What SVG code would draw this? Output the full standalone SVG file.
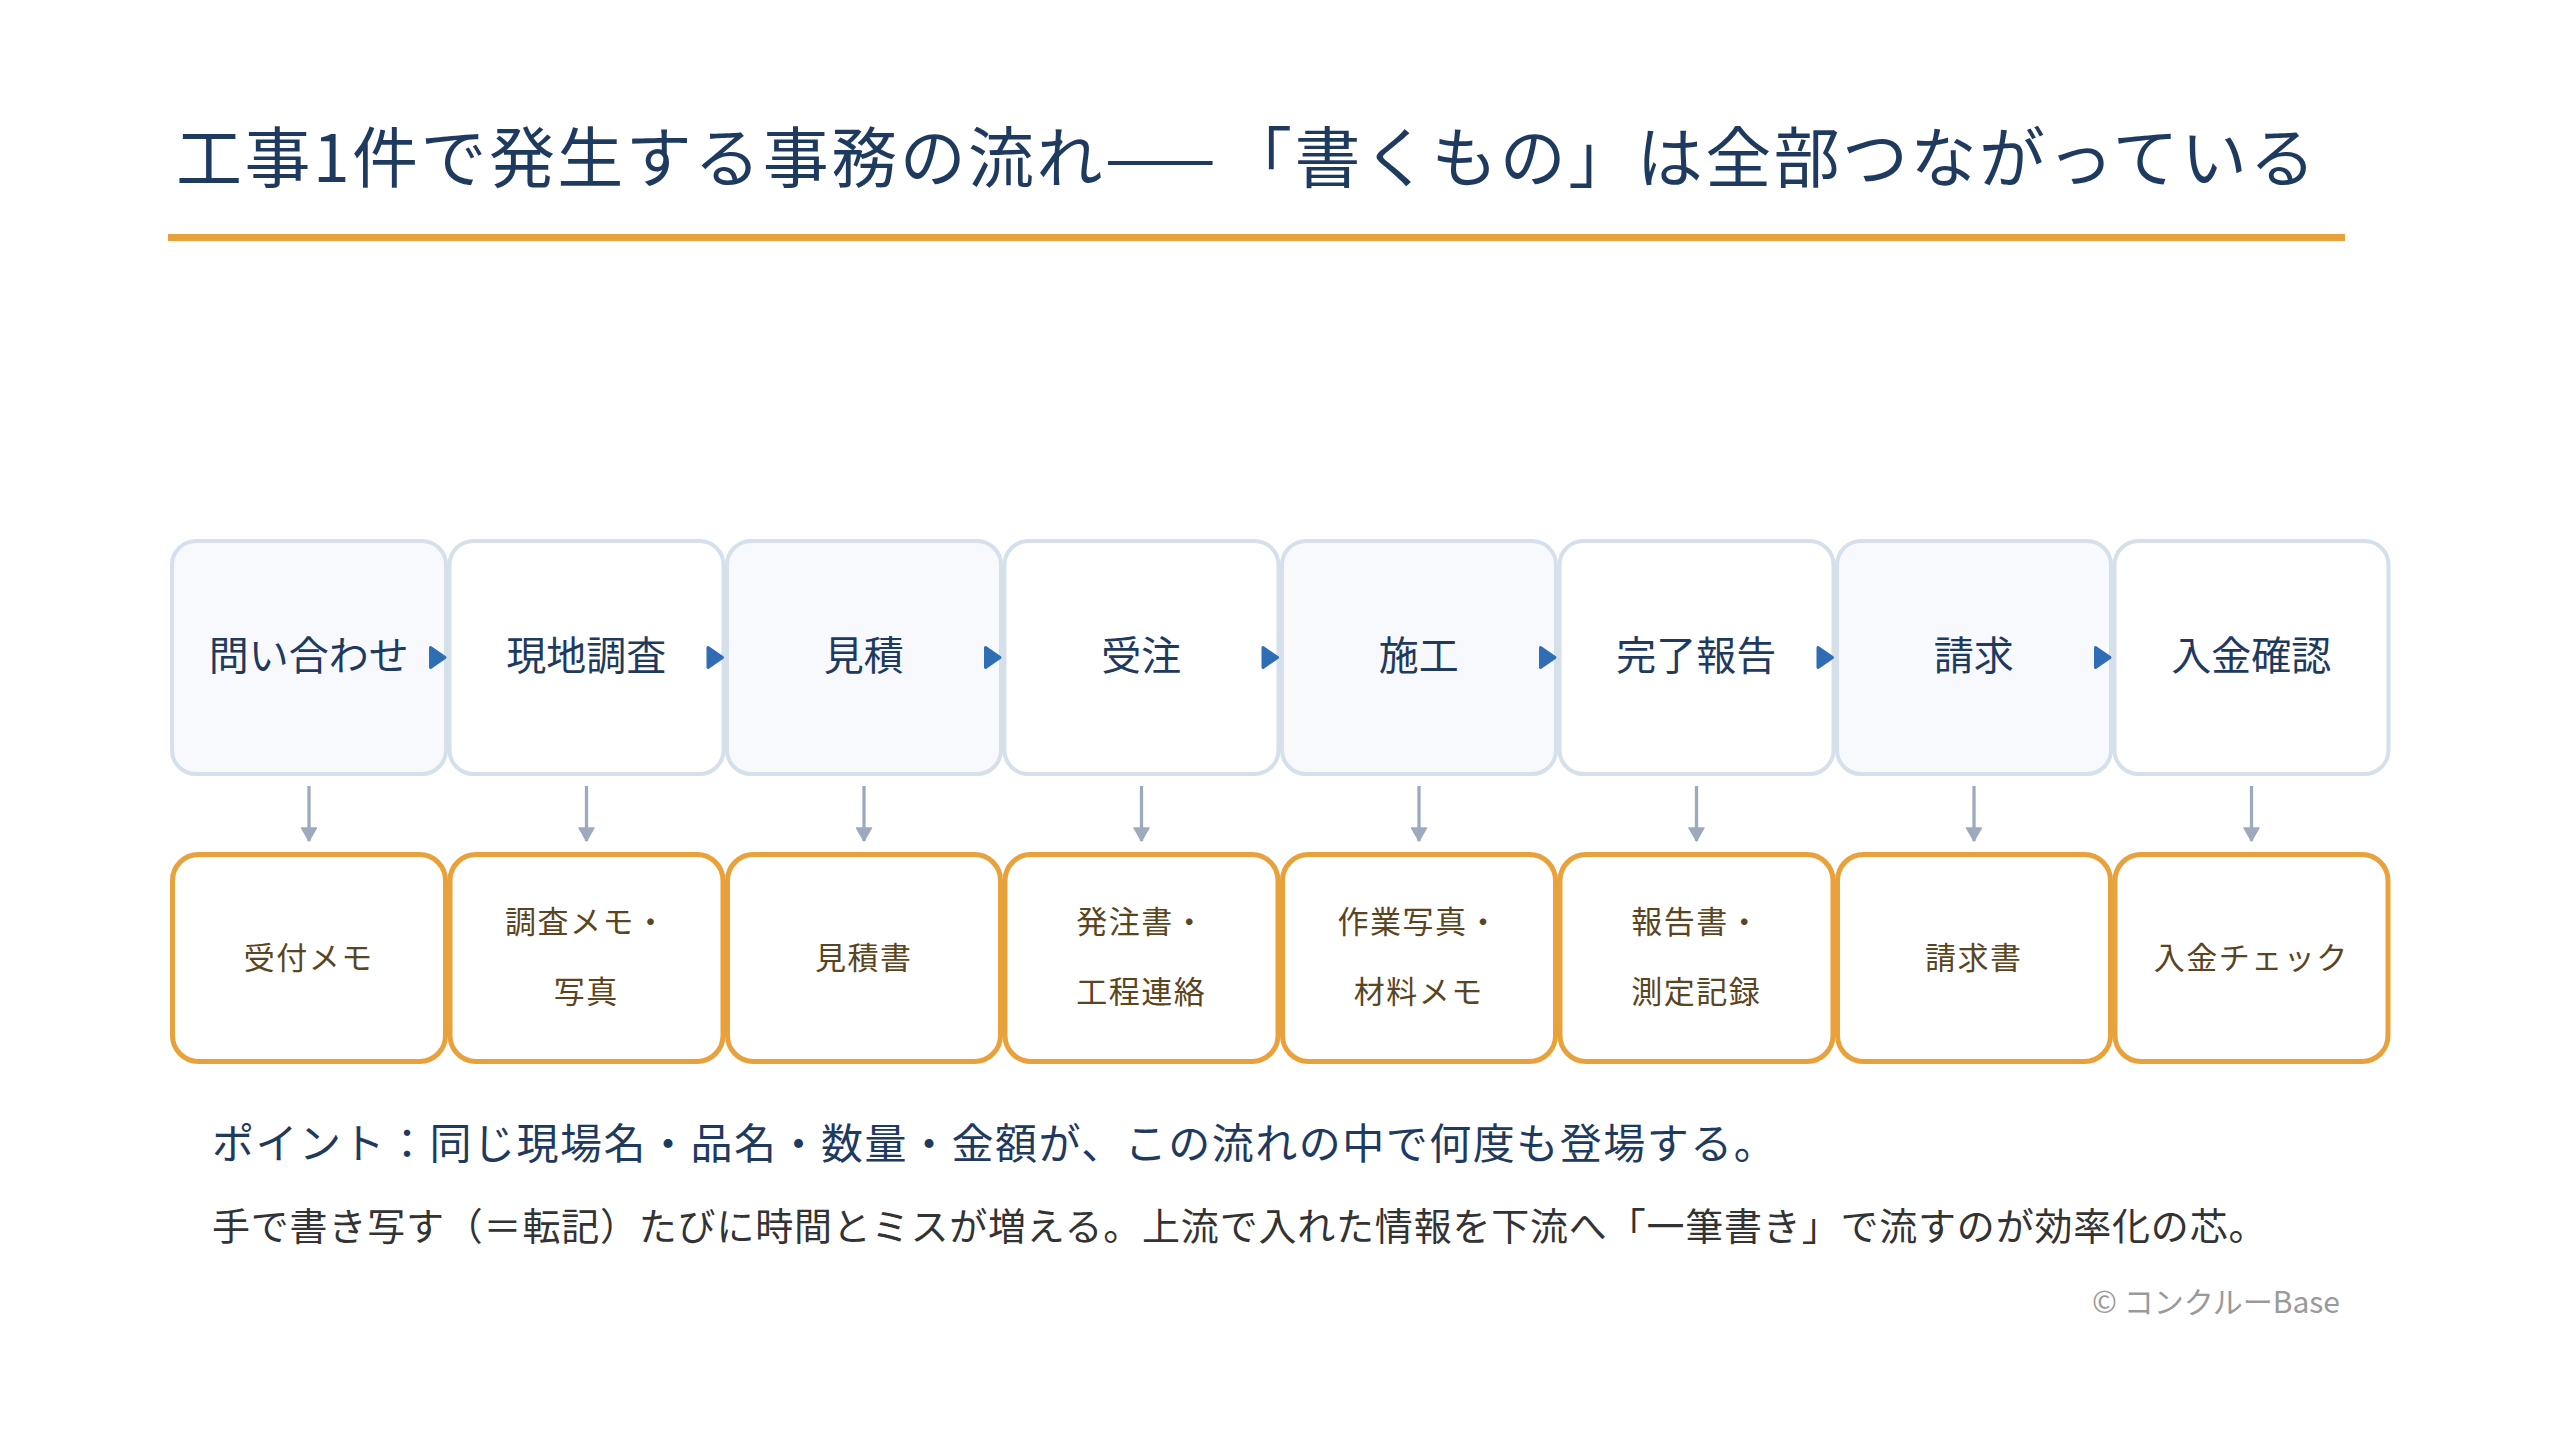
<svg xmlns="http://www.w3.org/2000/svg" width="2560" height="1440" viewBox="0 0 2560 1440">
<style>
text{font-family:"Noto Sans CJK JP","Noto Sans",sans-serif}
.title{font-size:66px;fill:#1F3A5F;letter-spacing:2.45px}
.step rect{fill:#FFFFFF;stroke:#D6E0EB;stroke-width:4}
.step.alt rect{fill:#F7F9FC}
.step text{font-size:40px;fill:#1F3A5F;text-anchor:middle}
.doc rect{fill:#FFFFFF;stroke:#E9A13B;stroke-width:5}
.doc text{font-size:31px;fill:#5A4520;text-anchor:middle;letter-spacing:1.5px}
.tri{fill:#2F6DB5;stroke:#2F6DB5;stroke-width:3;stroke-linejoin:round}
.down{stroke:#9DAABD;stroke-width:3.3;fill:none}
.point{font-size:42px;fill:#1F3A5F;letter-spacing:1.5px}
.note{font-size:38px;fill:#333333;letter-spacing:0.8px}
.copy{font-size:30px;fill:#9A9A9A;text-anchor:end}
</style>
<defs>
<marker id="ah" viewBox="-1 -1 16 18" refX="13" refY="8" markerWidth="16" markerHeight="18" markerUnits="userSpaceOnUse" orient="auto">
<path d="M0,0.5 L13,8 L0,15.5 Z" fill="#9DAABD" stroke="#9DAABD" stroke-width="1.5" stroke-linejoin="round"/>
</marker>
</defs>
<rect width="2560" height="1440" fill="#FFFFFF"/>
<g id="header">
<text class="title" x="176" y="182" dx="0 0 0 0 0 0 0 0 0 0 0 0 0 0 0 8">工事1件で発生する事務の流れ——「書くもの」は全部つながっている</text>
<rect x="168" y="234" width="2177" height="7" fill="#E9A13B"/>
</g>
<g id="step1" class="step alt"><rect x="172" y="541" width="274" height="233" rx="24"/><text x="308.75" y="670">問い合わせ</text></g>
<g id="step2" class="step"><rect x="449.5" y="541" width="274" height="233" rx="24"/><text x="586.25" y="670">現地調査</text></g>
<g id="step3" class="step alt"><rect x="727" y="541" width="274" height="233" rx="24"/><text x="863.75" y="670">見積</text></g>
<g id="step4" class="step"><rect x="1004.5" y="541" width="274" height="233" rx="24"/><text x="1141.25" y="670">受注</text></g>
<g id="step5" class="step alt"><rect x="1282" y="541" width="274" height="233" rx="24"/><text x="1418.75" y="670">施工</text></g>
<g id="step6" class="step"><rect x="1559.5" y="541" width="274" height="233" rx="24"/><text x="1696.25" y="670">完了報告</text></g>
<g id="step7" class="step alt"><rect x="1837" y="541" width="274" height="233" rx="24"/><text x="1973.75" y="670">請求</text></g>
<g id="step8" class="step"><rect x="2114.5" y="541" width="274" height="233" rx="24"/><text x="2251.25" y="670">入金確認</text></g>
<g id="doc1" class="doc"><rect x="172.5" y="854.5" width="273" height="207" rx="26"/><text x="308.75" y="969">受付メモ</text></g>
<g id="doc2" class="doc"><rect x="450" y="854.5" width="273" height="207" rx="26"/><text x="586.25" y="933">調査メモ・</text><text x="586.25" y="1003">写真</text></g>
<g id="doc3" class="doc"><rect x="727.5" y="854.5" width="273" height="207" rx="26"/><text x="863.75" y="969">見積書</text></g>
<g id="doc4" class="doc"><rect x="1005" y="854.5" width="273" height="207" rx="26"/><text x="1141.25" y="933">発注書・</text><text x="1141.25" y="1003">工程連絡</text></g>
<g id="doc5" class="doc"><rect x="1282.5" y="854.5" width="273" height="207" rx="26"/><text x="1418.75" y="933">作業写真・</text><text x="1418.75" y="1003">材料メモ</text></g>
<g id="doc6" class="doc"><rect x="1560" y="854.5" width="273" height="207" rx="26"/><text x="1696.25" y="933">報告書・</text><text x="1696.25" y="1003">測定記録</text></g>
<g id="doc7" class="doc"><rect x="1837.5" y="854.5" width="273" height="207" rx="26"/><text x="1973.75" y="969">請求書</text></g>
<g id="doc8" class="doc"><rect x="2115" y="854.5" width="273" height="207" rx="26"/><text x="2251.25" y="969">入金チェック</text></g>
<g id="connectors">
<path class="tri" d="M430.5,647.5 L445,657.5 L430.5,667.5 Z"/>
<path class="tri" d="M708,647.5 L722.5,657.5 L708,667.5 Z"/>
<path class="tri" d="M985.5,647.5 L1000,657.5 L985.5,667.5 Z"/>
<path class="tri" d="M1263,647.5 L1277.5,657.5 L1263,667.5 Z"/>
<path class="tri" d="M1540.5,647.5 L1555,657.5 L1540.5,667.5 Z"/>
<path class="tri" d="M1818,647.5 L1832.5,657.5 L1818,667.5 Z"/>
<path class="tri" d="M2095.5,647.5 L2110,657.5 L2095.5,667.5 Z"/>
<line class="down" x1="309" y1="786" x2="309" y2="841" marker-end="url(#ah)"/>
<line class="down" x1="586.5" y1="786" x2="586.5" y2="841" marker-end="url(#ah)"/>
<line class="down" x1="864" y1="786" x2="864" y2="841" marker-end="url(#ah)"/>
<line class="down" x1="1141.5" y1="786" x2="1141.5" y2="841" marker-end="url(#ah)"/>
<line class="down" x1="1419" y1="786" x2="1419" y2="841" marker-end="url(#ah)"/>
<line class="down" x1="1696.5" y1="786" x2="1696.5" y2="841" marker-end="url(#ah)"/>
<line class="down" x1="1974" y1="786" x2="1974" y2="841" marker-end="url(#ah)"/>
<line class="down" x1="2251.5" y1="786" x2="2251.5" y2="841" marker-end="url(#ah)"/>
</g>
<g id="notes">
<text class="point" x="212" y="1159">ポイント：同じ現場名・品名・数量・金額が、この流れの中で何度も登場する。</text>
<text class="note" x="212" y="1240">手で書き写す（＝転記）たびに時間とミスが増える。上流で入れた情報を下流へ「一筆書き」で流すのが効率化の芯。</text>
<text class="copy" x="2340" y="1313">© コンクルーBase</text>
</g>
</svg>
